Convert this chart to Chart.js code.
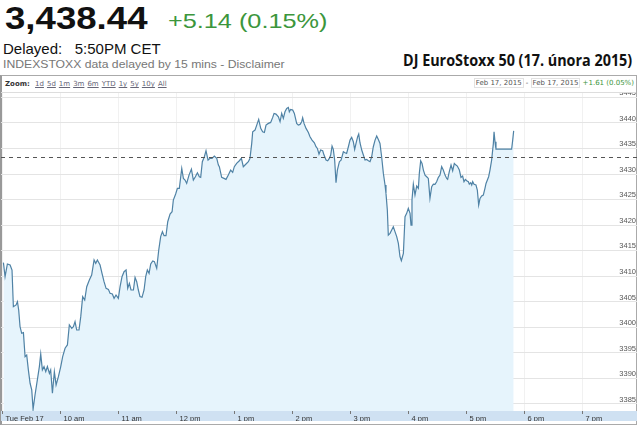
<!DOCTYPE html>
<html lang="cs">
<head>
<meta charset="UTF-8">
<title>DJ EuroStoxx 50</title>
<script src="https://cdn.jsdelivr.net/npm/chart.js"></script>
<style>
    body {
        margin: 0;
        width: 640px;
        height: 426px;
        background: #ffffff;
        font-family: 'Liberation Sans', Arial, sans-serif;
        position: relative;
        overflow: hidden;
    }
    .abs { position: absolute; white-space: pre; transform-origin: left top; }
    #price { left: 5px; top: 2px; font-size: 32px; line-height: 32px; font-weight: bold; color: #111; }
    #change { left: 168px; top: 10px; font-size: 21px; line-height: 21px; color: #3c963c; }
    #delayed { left: 3px; top: 41px; font-size: 15px; line-height: 15px; color: #111; }
    #note { left: 3px; top: 58px; font-size: 11.5px; line-height: 12px; color: #777; }
    #title { top: 51px; font-size: 16px; line-height: 18px; font-weight: bold; color: #111;
             font-family: 'Open Sans', sans-serif; }
    .box {
        position: absolute; left: 0; top: 75px; width: 637px; height: 350px;
        border: 1px solid #aaa; border-left: 2px solid #999; box-sizing: border-box;
    }
    .toolbar {
        position: absolute; left: 1px; top: 76px; width: 635px; height: 16px;
        border-bottom: 1px solid #ddd;
        font-family: 'DejaVu Sans', sans-serif; font-size: 7px; color: #444;
    }
    .toolbar .left { position: absolute; left: 4px; top: 4px; }
    .toolbar .left b { color: #333; margin-right: 3px; }
    .toolbar .left span { text-decoration: underline; color: #667; margin-right: 3px; }
    .toolbar .right { position: absolute; right: 2px; top: 3px; }
    .toolbar .date { border: 1px solid #e2e2e2; padding: 0 1px; color: #555; }
    .toolbar .up { color: #3c963c; }
    #chartWrap { position: absolute; left: 1px; top: 93px; width: 636px; height: 328px; }
</style>
</head>
<body>
<div id="price" class="abs">3,438.44</div>
<div id="change" class="abs">+5.14 (0.15%)</div>
<div id="delayed" class="abs">Delayed:   5:50PM CET</div>
<div id="note" class="abs">INDEXSTOXX data delayed by 15 mins - Disclaimer</div>
<div id="title" class="abs">DJ EuroStoxx 50 (17. února 2015)</div>

<div class="box"></div>
<div class="toolbar">
    <div class="left"><b>Zoom:</b> <span>1d</span><span>5d</span><span>1m</span><span>3m</span><span>6m</span><span>YTD</span><span>1y</span><span>5y</span><span>10y</span><span>All</span></div>
    <div class="right"><span class="date">Feb 17, 2015</span> - <span class="date">Feb 17, 2015</span> <span class="up">+1.61 (0.05%)</span></div>
</div>
<div id="chartWrap"><canvas id="chart" width="636" height="328"></canvas></div>

<script>
    // minutes after 9:00 CET
    const times = [
        0.9, 2.6, 5.0, 7.8, 9.8, 11.2, 14.0, 15.4, 16.7, 18.1,
        19.8, 21.6, 23.3, 25.0, 26.7, 28.5, 30.2, 31.6, 33.6, 36.0,
        38.1, 39.5, 41.2, 42.9, 44.7, 46.4, 48.5, 49.8, 51.6, 53.6,
        55.4, 57.8, 60.2, 62.2, 64.7, 67.1, 69.1, 71.6, 73.3, 75.0,
        76.7, 79.1, 80.9, 82.9, 85.0, 87.1, 89.8, 92.2, 94.7, 96.4,
        98.1, 100.9, 102.9, 105.0, 107.1, 109.5, 111.2, 113.6, 115.4, 117.4,
        119.8, 121.6, 123.6, 125.7, 127.8, 129.5, 131.2, 132.9, 135.4, 137.1,
        138.8, 140.5, 142.2, 144.3, 146.4, 148.1, 149.8, 151.6, 153.3, 155.4,
        157.1, 159.5, 161.6, 163.6, 165.4, 167.1, 169.1, 170.9, 173.3, 175.4,
        176.7, 179.1, 180.9, 182.9, 185.4, 187.1, 188.8, 190.5, 192.9, 195.4,
        197.4, 199.5, 201.6, 203.6, 205.0, 206.7, 208.8, 210.5, 212.6, 214.7,
        216.7, 219.1, 221.6, 223.3,
        224.3, 226.7, 229.1, 231.2, 233.6, 236.0, 238.1, 239.8, 242.2, 245.0,
        247.1, 249.1, 251.9, 254.3, 256.0, 257.8, 258.8, 261.2, 263.6, 265.0,
        267.1, 269.1, 270.9, 272.6, 275.0, 277.4, 279.5, 280.9, 282.9, 285.4,
        287.1, 288.8, 290.5, 292.2, 294.0, 295.7, 296.7, 298.1, 300.2, 301.9,
        304.3, 306.0, 307.8, 309.5, 310.5, 311.9, 314.0, 316.4, 318.1, 320.2,
        322.6, 324.3, 325.7, 327.4, 329.1, 331.2, 332.6, 334.7, 336.4, 338.1,
        339.5, 340.9, 342.2, 343.6, 345.0, 346.4, 348.5, 350.2, 352.6, 354.3,
        356.0, 357.8, 359.5, 361.2, 362.9, 364.3, 365.7, 367.4, 368.5, 369.8,
        371.6, 373.3, 375.0, 376.7, 378.5, 380.2, 381.9, 383.6, 385.4, 387.1,
        388.8, 390.5, 392.2, 394.0, 395.7, 396.7, 398.1, 399.1, 400.9, 402.6,
        404.3, 406.0, 407.8, 409.5, 411.2, 412.6,
        414.7, 416.4, 418.1, 419.8, 421.6, 422.6, 423.6, 425.0, 426.7, 428.5,
        430.2, 431.2, 432.6, 434.0, 435.4, 437.1, 438.8, 440.5, 442.2, 444.0,
        445.7, 447.4, 449.1, 450.9, 452.6, 454.3, 456.0, 457.8, 459.5, 460.5,
        462.2, 464.0, 465.7, 467.4, 469.1, 470.5, 472.6, 474.3, 476.0, 477.4,
        478.8, 480.2, 481.9, 482.9, 484.3, 485.4, 486.4, 487.8, 489.8, 491.2,
        492.6, 494.0, 495.7, 497.4, 499.1, 500.2, 501.6, 502.9, 504.3, 506.0,
        507.8, 508.5, 509.5, 510.5, 514.7, 521.6, 526.7, 527.8, 528.8
    ];

    const prices = [
        3412.64, 3409.90, 3412.38, 3412.18, 3411.20, 3404.03, 3404.36, 3405.01, 3403.38, 3400.12,
        3398.81, 3398.94, 3394.24, 3394.57, 3391.64, 3389.03, 3387.72, 3383.94, 3386.74, 3389.68,
        3392.29, 3394.77, 3391.64, 3392.29, 3391.31, 3392.29, 3390.98, 3391.64, 3387.07, 3391.31,
        3388.70, 3390.33, 3392.29, 3394.24, 3395.88, 3396.53, 3400.44, 3399.79, 3400.12, 3401.09,
        3399.46, 3399.46, 3402.07, 3405.99, 3405.33, 3407.94, 3409.25, 3410.23, 3413.16, 3412.51,
        3413.16, 3412.18, 3410.55, 3408.92, 3407.62, 3407.42, 3406.64, 3406.51, 3405.66, 3406.31,
        3405.66, 3407.94, 3409.90, 3410.88, 3411.20, 3407.62, 3408.60, 3407.29, 3407.29, 3409.77,
        3408.92, 3407.29, 3405.99, 3405.86, 3407.29, 3409.90, 3411.20, 3410.55, 3412.38, 3412.97,
        3412.84, 3411.53, 3415.12, 3417.73, 3418.71, 3417.92, 3417.92, 3420.66, 3422.16, 3422.62,
        3424.90, 3426.08, 3427.19, 3427.19, 3431.10, 3429.14, 3428.82, 3428.16, 3429.79, 3430.97,
        3428.82, 3429.47, 3430.25, 3429.47, 3429.34, 3432.40, 3433.38, 3434.56, 3432.73, 3433.06,
        3433.06, 3433.51, 3433.06, 3431.75,
        3431.43, 3429.34, 3429.14, 3428.95, 3429.79, 3430.77, 3430.32, 3431.43, 3432.08, 3432.60,
        3433.06, 3431.43, 3431.95, 3432.41, 3433.06, 3436.00, 3438.28, 3438.60, 3439.91, 3440.69,
        3438.93, 3438.28, 3438.14, 3439.58, 3439.91, 3440.10, 3441.08, 3441.86, 3441.73, 3441.21,
        3440.23, 3441.86, 3440.88, 3442.19, 3442.84, 3443.04, 3442.19, 3442.65, 3442.52, 3441.86,
        3439.91, 3439.58, 3439.71, 3440.23, 3441.01, 3439.91, 3438.93, 3438.14, 3437.30, 3436.64,
        3436.12, 3435.34, 3435.01, 3433.90, 3434.69, 3434.56, 3433.71, 3432.73, 3432.60, 3433.06,
        3433.71, 3435.47, 3434.82, 3432.73, 3428.30, 3430.77, 3432.41, 3432.73, 3434.36, 3434.17,
        3434.04, 3435.34, 3436.64, 3437.17, 3436.32, 3434.82, 3435.99, 3437.30, 3437.82, 3436.12,
        3434.69, 3433.71, 3432.73, 3432.86, 3432.60, 3432.41, 3433.38, 3435.34, 3436.64, 3437.43,
        3436.77, 3435.99, 3433.38, 3430.12, 3427.84, 3426.21, 3422.94, 3418.05, 3418.38, 3419.03,
        3419.68, 3418.71, 3417.73, 3416.42, 3413.81, 3413.03,
        3414.47, 3421.64, 3422.29, 3423.27, 3422.29, 3420.01, 3424.90, 3428.03, 3425.88, 3427.64,
        3427.19, 3430.12, 3432.60, 3432.08, 3430.77, 3429.79, 3429.47, 3429.14, 3425.23, 3427.51,
        3428.03, 3427.97, 3428.49, 3429.34, 3429.79, 3431.43, 3430.77, 3429.79, 3429.14, 3428.95,
        3430.45, 3431.75, 3430.64, 3432.08, 3431.75, 3431.56, 3430.77, 3429.34, 3429.60, 3428.49,
        3428.95, 3428.69, 3428.49, 3428.03, 3428.30, 3427.84, 3428.49, 3427.97, 3427.84, 3426.86,
        3423.92, 3425.23, 3425.69, 3425.88, 3427.19, 3428.16, 3428.82, 3429.47, 3430.77, 3432.73,
        3436.00, 3438.28, 3436.32, 3434.88, 3434.88, 3434.88, 3434.88, 3436.64, 3438.44
    ];

    const prevClose = 3433.30;

    const xTickValues = [0, 60, 120, 180, 240, 300, 360, 420, 480, 540, 600];
    const xTickLabels = ['Tue Feb 17', '10 am', '11 am', '12 pm', '1 pm', '2 pm', '3 pm', '4 pm', '5 pm', '6 pm', '7 pm'];
    const yTickValues = [3385, 3390, 3395, 3400, 3405, 3410, 3415, 3420, 3425, 3430, 3435, 3440, 3445];

    // squeeze/stretch header texts to the widths seen in the picture
    function fitWidth(id, target) {
        const el = document.getElementById(id);
        el.style.transform = `scaleX(${target / el.offsetWidth})`;
    }
    fitWidth('price', 143);
    fitWidth('change', 160);
    fitWidth('note', 282);
    document.getElementById('title').style.left = '403px';
    fitWidth('title', 229);

    const axisBand = {
        id: 'axisBand',
        beforeDraw(chart) {
            const {ctx, chartArea} = chart;
            ctx.save();
            ctx.fillStyle = '#cfe1f2';
            ctx.fillRect(0, chartArea.bottom, chart.width, chart.height - chartArea.bottom);
            ctx.restore();
        }
    };

    // previous close (dashed) and the y labels sitting just above their grid lines
    const overlay = {
        id: 'overlay',
        afterDatasetsDraw(chart) {
            const {ctx, chartArea, scales} = chart;
            const y = Math.round(scales.y.getPixelForValue(prevClose)) + 0.5;
            ctx.save();
            ctx.strokeStyle = '#555';
            ctx.lineWidth = 1;
            ctx.setLineDash([4, 4]);
            ctx.beginPath();
            ctx.moveTo(chartArea.left, y);
            ctx.lineTo(chartArea.right, y);
            ctx.stroke();

            ctx.setLineDash([]);
            ctx.font = '7.5px "Liberation Sans"';
            ctx.fillStyle = '#555';
            ctx.textAlign = 'right';
            ctx.textBaseline = 'bottom';
            yTickValues.forEach(v => {
                ctx.fillText(String(v), chartArea.right - 1, scales.y.getPixelForValue(v) - 0.5);
            });
            ctx.restore();
        }
    };

    new Chart(document.getElementById('chart'), {
        type: 'line',
        data: {
            datasets: [{
                data: times.map((t, i) => ({x: t, y: prices[i]})),
                borderColor: '#4f82a5',
                borderWidth: 1.2,
                backgroundColor: '#e6f4fc',
                fill: 'start',
                pointRadius: 0,
                tension: 0
            }]
        },
        options: {
            responsive: false,
            animation: false,
            layout: {padding: 0},
            plugins: {legend: {display: false}, tooltip: {enabled: false}},
            scales: {
                x: {
                    type: 'linear',
                    min: -1.6,
                    max: 656.4,
                    afterBuildTicks: axis => { axis.ticks = xTickValues.map(v => ({value: v})); },
                    afterFit: axis => { axis.height = 10; },
                    border: {display: false},
                    grid: {color: '#f1f1f1', tickColor: '#777', tickLength: 3},
                    ticks: {
                        autoSkip: false,
                        maxRotation: 0,
                        align: 'start',
                        labelOffset: 3,
                        padding: 0,
                        color: '#333',
                        font: {family: 'Liberation Sans', size: 7.5},
                        callback: (v, i) => xTickLabels[i]
                    }
                },
                y: {
                    position: 'right',
                    min: 3383.6,
                    max: 3445.86,
                    afterBuildTicks: axis => { axis.ticks = yTickValues.map(v => ({value: v})); },
                    afterFit: axis => { axis.width = 0; },
                    border: {display: false},
                    grid: {color: '#e4e4e4', drawTicks: false},
                    ticks: {display: false}
                }
            }
        },
        plugins: [axisBand, overlay]
    });
</script>
</body>
</html>
